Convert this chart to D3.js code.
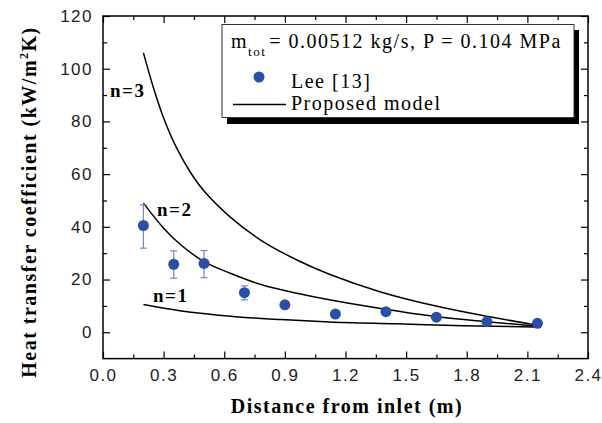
<!DOCTYPE html>
<html>
<head>
<meta charset="utf-8">
<script src="https://cdn.jsdelivr.net/npm/d3@7"></script>
<style>
  body { margin: 0; background: #fff; }
  svg { display: block; }
</style>
</head>
<body>
<div id="chart"></div>
<script>
// measured data (Lee [13])
var leeX    = [0.2, 0.35, 0.5, 0.7, 0.9, 1.15, 1.4, 1.65, 1.9, 2.15];
var leeY    = [40.5, 25.8, 26.1, 15.0, 10.4, 6.9, 7.8, 5.7, 4.0, 3.4];
var leeHigh = [48.3, 30.9, 31.0, 17.6, 10.4, 6.9, 7.8, 5.7, 4.0, 3.4];
var leeLow  = [31.9, 20.5, 20.7, 12.3, 10.4, 6.9, 7.8, 5.7, 4.0, 3.4];

// proposed model curves
var n3X = [0.2, 0.25, 0.3, 0.36, 0.43, 0.5, 0.63, 0.78, 0.96, 1.12, 1.37, 1.62, 1.86, 2.14];
var n3Y = [106, 92.7, 81.3, 70.6, 61.0, 53.6, 43.7, 35, 27.4, 22.0, 15.4, 10.4, 6.6, 2.8];
var n2X = [0.2, 0.3, 0.38, 0.5, 0.63, 0.79, 0.96, 1.12, 1.39, 1.65, 1.9, 2.14];
var n2Y = [49, 39.5, 33.5, 26.8, 22.4, 17.9, 14.8, 12.3, 8.8, 5.9, 4.0, 2.4];
var n1X = [0.2, 0.38, 0.63, 0.88, 1.12, 1.45, 1.78, 2.14];
var n1Y = [10.5, 8.2, 6.1, 4.8, 3.9, 3.2, 2.5, 2.0];

var curveNames = ["n=3", "n=2", "n=1"];
var xTicks = [0, 0.3, 0.6, 0.9, 1.2, 1.5, 1.8, 2.1, 2.4];
var xMinor = [0.15, 0.45, 0.75, 1.05, 1.35, 1.65, 1.95, 2.25];
var yTicks = [0, 20, 40, 60, 80, 100, 120];
var yMinor = [10, 30, 50, 70, 90, 110];

var W = 602, H = 423;
var serif = "'Liberation Serif', 'Times New Roman', serif";
var sans = "'Liberation Sans', Arial, sans-serif";
var blue = "#2d4ea6";

var svg = d3.select("#chart").append("svg")
    .attr("width", W)
    .attr("height", H);

var x = d3.scaleLinear().domain([0, 2.4]).range([103, 588]);
var y = d3.scaleLinear().domain([-10, 120]).range([358.6, 16]);

// axes - ticks point inward
function styleAxis(g) {
    g.select(".domain").remove();
    g.selectAll(".tick line").attr("stroke", "#000").attr("stroke-width", 1.2);
    g.selectAll("text")
        .attr("fill", "#222")
        .style("font-family", sans)
        .style("font-size", "17px")
        .style("letter-spacing", "1.5px");
}

svg.append("g").attr("transform", "translate(0,358.6)")
    .call(d3.axisBottom(x).tickValues(xTicks).tickSize(-7).tickSizeOuter(0).tickPadding(10).tickFormat(d3.format(".1f")))
    .call(styleAxis);
svg.append("g").attr("transform", "translate(0,358.6)")
    .call(d3.axisBottom(x).tickValues(xMinor).tickSize(-4).tickSizeOuter(0).tickFormat(""))
    .call(styleAxis);
svg.append("g").attr("transform", "translate(0,16)")
    .call(d3.axisTop(x).tickValues(xTicks).tickSize(-7).tickSizeOuter(0).tickFormat(""))
    .call(styleAxis);
svg.append("g").attr("transform", "translate(0,16)")
    .call(d3.axisTop(x).tickValues(xMinor).tickSize(-4).tickSizeOuter(0).tickFormat(""))
    .call(styleAxis);

svg.append("g").attr("transform", "translate(103,0)")
    .call(d3.axisLeft(y).tickValues(yTicks).tickSize(-7).tickSizeOuter(0).tickPadding(10))
    .call(styleAxis);
svg.append("g").attr("transform", "translate(103,0)")
    .call(d3.axisLeft(y).tickValues(yMinor).tickSize(-4).tickSizeOuter(0).tickFormat(""))
    .call(styleAxis);
svg.append("g").attr("transform", "translate(588,0)")
    .call(d3.axisRight(y).tickValues(yTicks).tickSize(-7).tickSizeOuter(0).tickFormat(""))
    .call(styleAxis);
svg.append("g").attr("transform", "translate(588,0)")
    .call(d3.axisRight(y).tickValues(yMinor).tickSize(-4).tickSizeOuter(0).tickFormat(""))
    .call(styleAxis);

// frame
svg.append("rect")
    .attr("x", x(0)).attr("y", y(120))
    .attr("width", x(2.4) - x(0))
    .attr("height", y(-10) - y(120))
    .attr("fill", "none")
    .attr("stroke", "#000")
    .attr("stroke-width", 1.5);

// model curves
var line = d3.line()
    .x(function (d) { return x(d[0]); })
    .y(function (d) { return y(d[1]); })
    .curve(d3.curveCatmullRom.alpha(0.5));

var curves = [d3.zip(n3X, n3Y), d3.zip(n2X, n2Y), d3.zip(n1X, n1Y)];
svg.selectAll(".model")
    .data(curves)
    .enter()
    .append("path")
    .attr("class", "model")
    .attr("d", line)
    .attr("fill", "none")
    .attr("stroke", "#000")
    .attr("stroke-width", 1.5);

// curve labels
var labelPos = [[110, 97], [157, 216], [153, 302]];
svg.selectAll(".nlab")
    .data(curveNames)
    .enter()
    .append("text")
    .attr("class", "nlab")
    .attr("x", function (d, i) { return labelPos[i][0]; })
    .attr("y", function (d, i) { return labelPos[i][1]; })
    .style("font-family", serif)
    .style("font-weight", "bold")
    .style("font-size", "19px")
    .style("letter-spacing", "1.5px")
    .text(function (d) { return d; });

// error bars
var lee = leeX.map(function (d, i) {
    return {x: d, y: leeY[i], hi: leeHigh[i], lo: leeLow[i]};
});
var withErr = lee.filter(function (d) { return d.hi - d.lo > 0; });
var eb = svg.selectAll(".err").data(withErr).enter().append("g")
    .attr("stroke", "#6f89cc").attr("stroke-width", 1.2);
eb.append("line")
    .attr("x1", function (d) { return x(d.x); })
    .attr("x2", function (d) { return x(d.x); })
    .attr("y1", function (d) { return y(d.hi); })
    .attr("y2", function (d) { return y(d.lo); });
eb.append("line")
    .attr("x1", function (d) { return x(d.x) - 3.5; })
    .attr("x2", function (d) { return x(d.x) + 3.5; })
    .attr("y1", function (d) { return y(d.hi); })
    .attr("y2", function (d) { return y(d.hi); });
eb.append("line")
    .attr("x1", function (d) { return x(d.x) - 3.5; })
    .attr("x2", function (d) { return x(d.x) + 3.5; })
    .attr("y1", function (d) { return y(d.lo); })
    .attr("y2", function (d) { return y(d.lo); });

svg.selectAll(".pt")
    .data(lee)
    .enter()
    .append("circle")
    .attr("class", "pt")
    .attr("cx", function (d) { return x(d.x); })
    .attr("cy", function (d) { return y(d.y); })
    .attr("r", 5.5)
    .attr("fill", blue);

// legend
var leg = svg.append("g");
leg.append("rect")
    .attr("x", 227).attr("y", 30)
    .attr("width", 352).attr("height", 94)
    .attr("fill", "#000");
leg.append("rect")
    .attr("x", 222).attr("y", 24.5)
    .attr("width", 352).attr("height", 93)
    .attr("fill", "#fff")
    .attr("stroke", "#333")
    .attr("stroke-width", 1);

var t1 = leg.append("text")
    .attr("x", 231).attr("y", 48)
    .style("font-family", serif)
    .style("font-size", "20px")
    .style("letter-spacing", "1.5px");
t1.append("tspan").text("m");
t1.append("tspan").attr("dy", 8).style("font-size", "13px").text("tot");
t1.append("tspan").attr("dy", -8).attr("dx", 3).text("= 0.00512 kg/s, P = 0.104 MPa");

leg.append("circle")
    .attr("cx", 259).attr("cy", 77)
    .attr("r", 5.5)
    .attr("fill", blue);
leg.append("text")
    .attr("x", 291).attr("y", 88)
    .style("font-family", serif)
    .style("font-size", "20px")
    .style("letter-spacing", "1.5px")
    .text("Lee [13]");

leg.append("line")
    .attr("x1", 233).attr("x2", 286)
    .attr("y1", 104.5).attr("y2", 104.5)
    .attr("stroke", "#000")
    .attr("stroke-width", 1.5);
leg.append("text")
    .attr("x", 291).attr("y", 110)
    .style("font-family", serif)
    .style("font-size", "20px")
    .style("letter-spacing", "1.5px")
    .text("Proposed model");

// axis titles
svg.append("text")
    .attr("x", 347).attr("y", 413)
    .attr("text-anchor", "middle")
    .style("font-family", serif)
    .style("font-weight", "bold")
    .style("font-size", "20px")
    .style("letter-spacing", "1.5px")
    .text("Distance from inlet (m)");

var yl = svg.append("text")
    .attr("transform", "translate(36,202) rotate(-90)")
    .attr("text-anchor", "middle")
    .style("font-family", serif)
    .style("font-weight", "bold")
    .style("font-size", "20px")
    .style("letter-spacing", "1.5px");
yl.append("tspan").text("Heat transfer coefficient (kW/m");
yl.append("tspan").attr("dy", -8).style("font-size", "12px").text("2");
yl.append("tspan").attr("dy", 8).text("K)");
</script>
</body>
</html>
